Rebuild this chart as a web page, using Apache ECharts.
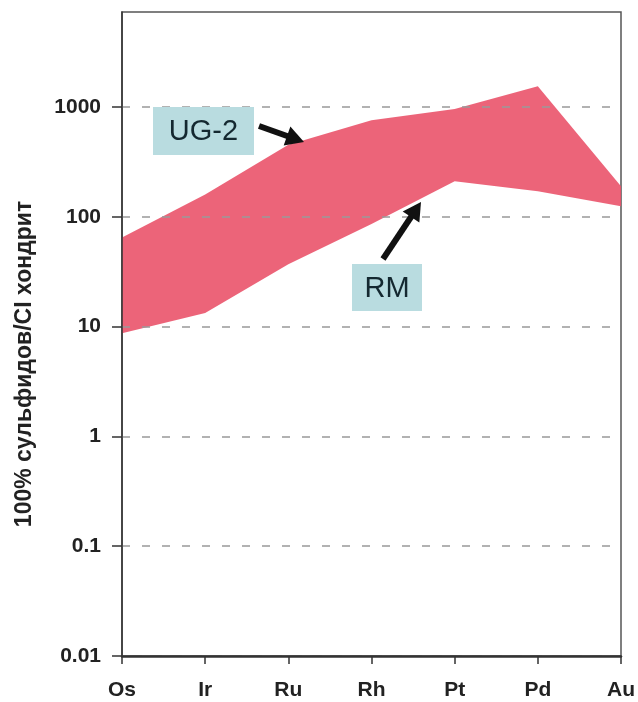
<!DOCTYPE html>
<html>
<head>
<meta charset="utf-8">
<script src="https://cdn.jsdelivr.net/npm/echarts@6/dist/echarts.min.js"></script>
<style>
  html, body { margin: 0; padding: 0; background: #fff; }
  #chart { width: 638px; height: 702px; }
</style>
</head>
<body>
<div id="chart"></div>
<script>
// Elements along the x axis
const elements = ['Os', 'Ir', 'Ru', 'Rh', 'Pt', 'Pd', 'Au'];
// Upper edge of the field (UG-2), normalised to 100% sulphides / CI chondrite
const upperUG2 = [65, 160, 455, 760, 960, 1550, 190];
// Lower edge of the field (RM)
const lowerRM = [8.7, 13.3, 37, 86, 211, 171, 125];
// Tick values on the logarithmic y axis
const yTicks = [0.01, 0.1, 1, 10, 100, 1000];
const yMin = 0.01;
const yMax = 7360;

const FONT = 'Liberation Sans';

const chart = echarts.init(document.getElementById('chart'), null, { renderer: 'canvas' });

// Thick black arrow (shaft + head) from tail to tip, in pixels
function arrow(tail, tip) {
  const dx = tip[0] - tail[0], dy = tip[1] - tail[1];
  const len = Math.hypot(dx, dy);
  const ux = dx / len, uy = dy / len;
  const px = -uy, py = ux;
  const headLen = 18, headHalf = 10;
  const bx = tip[0] - ux * headLen, by = tip[1] - uy * headLen;
  return [
    { type: 'line', z: 100, shape: { x1: tail[0], y1: tail[1], x2: bx + ux * 3, y2: by + uy * 3 },
      style: { stroke: '#111', lineWidth: 6 } },
    { type: 'polygon', z: 100, shape: { points: [tip, [bx + px * headHalf, by + py * headHalf], [bx - px * headHalf, by - py * headHalf]] },
      style: { fill: '#111' } }
  ];
}

function labelBox(x, y, w, h, text) {
  return [
    { type: 'rect', z: 100, shape: { x: x, y: y, width: w, height: h }, style: { fill: '#b9dce0' } },
    { type: 'text', z: 101, x: x + w / 2, y: y + h / 2 + 1,
      style: { text: text, fill: '#142830', font: '29px "' + FONT + '"', align: 'center', verticalAlign: 'middle' } }
  ];
}

const option = {
  backgroundColor: '#fff',
  animation: false,
  grid: {
    left: 122, right: 16, top: 12, bottom: 46,
    show: true, borderColor: '#555', borderWidth: 1.5, backgroundColor: 'transparent'
  },
  xAxis: {
    type: 'category',
    data: elements,
    boundaryGap: false,
    z: 5,
    axisLine: { show: true, lineStyle: { color: '#333', width: 2.5 } },
    axisTick: { show: true, length: 8, lineStyle: { color: '#333', width: 1.5 } },
    axisLabel: { color: '#222', fontFamily: FONT, fontSize: 21, fontWeight: 'bold', margin: 24 },
    splitLine: { show: false }
  },
  yAxis: {
    type: 'log',
    logBase: 10,
    min: yMin,
    max: yMax,
    z: 5,
    name: '100% сульфидов/CI хондрит',
    nameLocation: 'middle',
    nameGap: 86,
    nameTextStyle: { color: '#222', fontFamily: FONT, fontSize: 23, fontWeight: 'bold', padding: [0, 60, 0, 0] },
    axisLine: { show: true, lineStyle: { color: '#333', width: 1.5 } },
    axisTick: { show: true, inside: false, length: 10, customValues: yTicks, lineStyle: { color: '#333', width: 1.5 } },
    axisLabel: {
      customValues: yTicks, color: '#222', fontFamily: FONT, fontSize: 21, fontWeight: 'bold', margin: 21,
      formatter: function (v) { return String(Number(v.toPrecision(6))); }
    },
    splitLine: { show: true, lineStyle: { color: '#999', width: 1.5, type: [8, 12] } }
  },
  series: [{
    type: 'custom',
    name: 'field',
    z: 2,
    data: elements.map(function (_, i) { return [i, lowerRM[i], upperUG2[i]]; }),
    encode: { x: 0, y: [1, 2] },
    renderItem: function (params, api) {
      if (params.dataIndex !== 0) return null;
      const pts = [];
      for (let i = 0; i < elements.length; i++) pts.push(api.coord([i, upperUG2[i]]));
      for (let i = elements.length - 1; i >= 0; i--) pts.push(api.coord([i, lowerRM[i]]));
      // slightly translucent so the dashed grid shows faintly through the field
      return { type: 'polygon', shape: { points: pts }, style: { fill: 'rgb(234, 83, 106)', opacity: 0.9, stroke: null } };
    }
  }],
  graphic: [].concat(
    labelBox(153, 107, 101, 48, 'UG-2'),
    arrow([259, 126], [304, 142]),
    labelBox(352, 264, 70, 47, 'RM'),
    arrow([383, 259], [421, 202])
  )
};

chart.setOption(option);
</script>
</body>
</html>
